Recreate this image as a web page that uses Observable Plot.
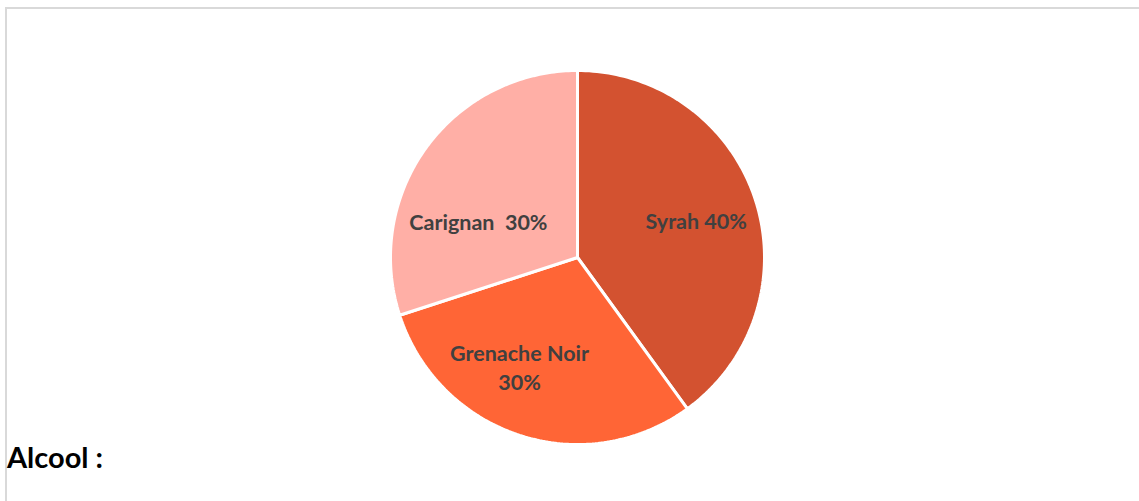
<!DOCTYPE html>
<html>
<head>
<meta charset="utf-8">
<script src="https://cdn.jsdelivr.net/npm/d3@7"></script>
<script src="https://cdn.jsdelivr.net/npm/@observablehq/plot@0.6"></script>
<style>
  html, body { margin: 0; padding: 0; background: #fff; width: 1139px; height: 501px; overflow: hidden; }
  #frame { position: absolute; left: 5px; top: 7px; right: -10px; bottom: -10px; border-top: 2px solid #d9d9d9; border-left: 2px solid #d9d9d9; }
  #chart { position: absolute; left: 0; top: 0; }
  #alcool { position: absolute; left: 7px; top: 439px; font-family: Lato, "Open Sans", sans-serif; font-weight: bold; font-size: 29px; color: #000; }
</style>
</head>
<body>
<div id="frame"></div>
<div id="chart"></div>
<div id="alcool">Alcool :</div>
<script>
const cepages = ["Syrah", "Grenache Noir", "Carignan"];
const parts = [40, 30, 30];
const labels = ["Syrah 40%", "Grenache Noir\n30%", "Carignan  30%"];
const colors = ["#D35230", "#FF6536", "#FFAFA6"];

const W = 1139, H = 501;
const cx = 577, cy = 257, R = 187;

const pie = d3.pie().sort(null).value(d => d)(parts);

// polygon points for each slice (unit circle coordinates)
const polys = [];
pie.forEach((p, i) => {
  const n = 120;
  polys.push({k: i, s: 0, x: 0, y: 0});
  for (let j = 0; j <= n; j++) {
    const a = p.startAngle + (p.endAngle - p.startAngle) * j / n;
    polys.push({k: i, s: j + 1, x: Math.sin(a), y: Math.cos(a)});
  }
  polys.push({k: i, s: n + 2, x: 0, y: 0});
});

const labelPos = [[0.635, 0.20], [-0.31, -0.58], [-0.53, 0.195]];
const labelData = pie.map((p, i) => ({x: labelPos[i][0], y: labelPos[i][1], t: labels[i]}));

const chart = Plot.plot({
  width: W, height: H,
  margin: 0,
  x: {domain: [-cx / R, (W - cx) / R], axis: null},
  y: {domain: [cy / R, -(H - cy) / R], axis: null, range: [0, H]},
  marks: [
    Plot.line(polys, {x: "x", y: "y", z: "k", fill: d => colors[d.k], stroke: "#fff", strokeWidth: 3, strokeLinejoin: "miter", curve: "linear"}),
    Plot.text(labelData, {x: "x", y: "y", text: "t", fill: "#404040", fontSize: 21.5, fontWeight: "bold", fontFamily: "Lato, 'Open Sans', sans-serif", lineHeight: 1.35})
  ]
});
document.getElementById("chart").appendChild(chart);
</script>
</body>
</html>
